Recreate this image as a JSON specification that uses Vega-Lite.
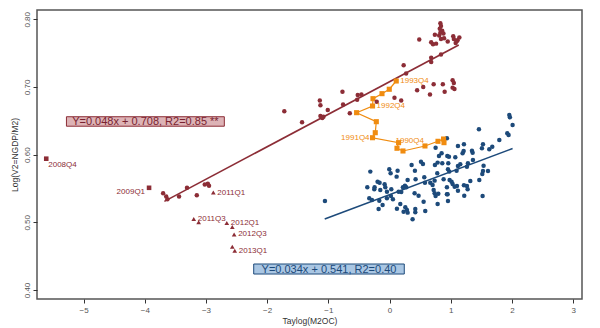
{
  "$schema": "https://vega.github.io/schema/vega-lite/v6.json",
  "width": 545,
  "height": 289,
  "autosize": {"type": "none"},
  "padding": {"left": 37, "top": 10, "right": 18, "bottom": 29},
  "background": "white",
  "config": {
    "view": {"stroke": "#555555", "strokeWidth": 1.5},
    "font": "Liberation Sans",
    "axis": {"grid": false, "domain": false, "tickColor": "#333333", "tickSize": 4, "labelColor": "#555555", "labelFontSize": 8, "titleFontSize": 8.5, "titleFontWeight": "normal", "titleColor": "#333333", "labelFont": "Liberation Sans", "titleFont": "Liberation Sans"}
  },
  "datasets": {
    "pts": [
      {"x": -5.61, "y": 0.594, "g": "crisis", "lab": "2008Q4"},
      {"x": -3.93, "y": 0.551, "g": "crisis", "lab": "2009Q1"},
      {"x": -2.88, "y": 0.544, "g": "recent", "lab": "2011Q1"},
      {"x": -3.20, "y": 0.505, "g": "recent", "lab": "2011Q3"},
      {"x": -3.12, "y": 0.500, "g": "recent", "lab": ""},
      {"x": -2.66, "y": 0.499, "g": "recent", "lab": "2012Q1"},
      {"x": -2.57, "y": 0.493, "g": "recent", "lab": ""},
      {"x": -2.54, "y": 0.482, "g": "recent", "lab": "2012Q3"},
      {"x": -2.57, "y": 0.464, "g": "recent", "lab": ""},
      {"x": -2.53, "y": 0.458, "g": "recent", "lab": "2013Q1"},
      {"x": -3.70, "y": 0.543, "g": "hist", "lab": ""},
      {"x": -3.65, "y": 0.538, "g": "hist", "lab": ""},
      {"x": -3.63, "y": 0.534, "g": "hist", "lab": ""},
      {"x": -3.44, "y": 0.538, "g": "hist", "lab": ""},
      {"x": -3.31, "y": 0.551, "g": "hist", "lab": ""},
      {"x": -3.15, "y": 0.540, "g": "hist", "lab": ""},
      {"x": -3.02, "y": 0.556, "g": "hist", "lab": ""},
      {"x": -2.97, "y": 0.557, "g": "hist", "lab": ""},
      {"x": -2.95, "y": 0.554, "g": "hist", "lab": ""},
      {"x": -1.72, "y": 0.664, "g": "hist", "lab": ""},
      {"x": -1.43, "y": 0.648, "g": "hist", "lab": ""},
      {"x": -1.13, "y": 0.657, "g": "hist", "lab": ""},
      {"x": -1.08, "y": 0.656, "g": "hist", "lab": ""},
      {"x": -1.10, "y": 0.654, "g": "hist", "lab": ""},
      {"x": -1.01, "y": 0.666, "g": "hist", "lab": ""},
      {"x": -1.14, "y": 0.680, "g": "hist", "lab": ""},
      {"x": -1.13, "y": 0.673, "g": "hist", "lab": ""},
      {"x": -0.77, "y": 0.693, "g": "hist", "lab": ""},
      {"x": -0.76, "y": 0.674, "g": "hist", "lab": ""},
      {"x": -0.65, "y": 0.661, "g": "hist", "lab": ""},
      {"x": -0.52, "y": 0.688, "g": "hist", "lab": ""},
      {"x": -0.46, "y": 0.689, "g": "hist", "lab": ""},
      {"x": -0.53, "y": 0.681, "g": "hist", "lab": ""},
      {"x": -0.21, "y": 0.678, "g": "hist", "lab": ""},
      {"x": 0.08, "y": 0.684, "g": "hist", "lab": ""},
      {"x": 0.19, "y": 0.680, "g": "hist", "lab": ""},
      {"x": 0.23, "y": 0.732, "g": "hist", "lab": ""},
      {"x": 0.27, "y": 0.720, "g": "hist", "lab": ""},
      {"x": 0.45, "y": 0.695, "g": "hist", "lab": ""},
      {"x": 0.55, "y": 0.700, "g": "hist", "lab": ""},
      {"x": 0.66, "y": 0.689, "g": "hist", "lab": ""},
      {"x": 0.72, "y": 0.704, "g": "hist", "lab": ""},
      {"x": 0.87, "y": 0.704, "g": "hist", "lab": ""},
      {"x": 0.90, "y": 0.693, "g": "hist", "lab": ""},
      {"x": 1.03, "y": 0.710, "g": "hist", "lab": ""},
      {"x": 1.05, "y": 0.706, "g": "hist", "lab": ""},
      {"x": 1.03, "y": 0.699, "g": "hist", "lab": ""},
      {"x": 1.06, "y": 0.697, "g": "hist", "lab": ""},
      {"x": 0.485, "y": 0.770, "g": "hist", "lab": ""},
      {"x": 0.68, "y": 0.737, "g": "hist", "lab": ""},
      {"x": 0.68, "y": 0.743, "g": "hist", "lab": ""},
      {"x": 0.84, "y": 0.748, "g": "hist", "lab": ""},
      {"x": 0.83, "y": 0.794, "g": "hist", "lab": ""},
      {"x": 0.84, "y": 0.790, "g": "hist", "lab": ""},
      {"x": 0.82, "y": 0.786, "g": "hist", "lab": ""},
      {"x": 0.86, "y": 0.783, "g": "hist", "lab": ""},
      {"x": 0.83, "y": 0.780, "g": "hist", "lab": ""},
      {"x": 0.88, "y": 0.779, "g": "hist", "lab": ""},
      {"x": 0.74, "y": 0.777, "g": "hist", "lab": ""},
      {"x": 0.81, "y": 0.776, "g": "hist", "lab": ""},
      {"x": 0.84, "y": 0.771, "g": "hist", "lab": ""},
      {"x": 0.89, "y": 0.772, "g": "hist", "lab": ""},
      {"x": 0.68, "y": 0.766, "g": "hist", "lab": ""},
      {"x": 0.71, "y": 0.763, "g": "hist", "lab": ""},
      {"x": 0.76, "y": 0.764, "g": "hist", "lab": ""},
      {"x": 0.95, "y": 0.767, "g": "hist", "lab": ""},
      {"x": 1.04, "y": 0.775, "g": "hist", "lab": ""},
      {"x": 1.05, "y": 0.771, "g": "hist", "lab": ""},
      {"x": 1.08, "y": 0.765, "g": "hist", "lab": ""},
      {"x": 1.11, "y": 0.769, "g": "hist", "lab": ""},
      {"x": 1.14, "y": 0.773, "g": "hist", "lab": ""},
      {"x": 1.10, "y": 0.768, "g": "hist", "lab": ""}
    ],
    "orange": [
      {"seq": 1, "x": 0.889, "y": 0.6177, "lab": ""},
      {"seq": 2, "x": 0.882, "y": 0.6231, "lab": ""},
      {"seq": 3, "x": 0.791, "y": 0.6197, "lab": ""},
      {"seq": 4, "x": 0.578, "y": 0.6128, "lab": "1990Q4"},
      {"seq": 5, "x": 0.219, "y": 0.6054, "lab": ""},
      {"seq": 6, "x": 0.121, "y": 0.6094, "lab": ""},
      {"seq": 7, "x": 0.147, "y": 0.6177, "lab": ""},
      {"seq": 8, "x": -0.278, "y": 0.6250, "lab": "1991Q4"},
      {"seq": 9, "x": -0.234, "y": 0.6324, "lab": ""},
      {"seq": 10, "x": -0.217, "y": 0.6487, "lab": ""},
      {"seq": 11, "x": -0.539, "y": 0.6620, "lab": ""},
      {"seq": 12, "x": -0.278, "y": 0.6719, "lab": "1992Q4"},
      {"seq": 13, "x": -0.271, "y": 0.6827, "lab": ""},
      {"seq": 14, "x": -0.124, "y": 0.6901, "lab": ""},
      {"seq": 15, "x": -0.005, "y": 0.6966, "lab": ""},
      {"seq": 16, "x": 0.109, "y": 0.7088, "lab": "1993Q4"}
    ],
    "blue": [
      {"x": 1.956, "y": 0.6586}, {"x": 1.966, "y": 0.6551}, {"x": 2.010, "y": 0.6438}, {"x": 1.923, "y": 0.6315},
      {"x": 1.945, "y": 0.6290}, {"x": 1.460, "y": 0.6374}, {"x": 1.793, "y": 0.6216}, {"x": 1.678, "y": 0.6118},
      {"x": 1.629, "y": 0.6079}, {"x": 1.526, "y": 0.6152}, {"x": 1.509, "y": 0.6093}, {"x": 1.117, "y": 0.6128},
      {"x": 1.215, "y": 0.6152}, {"x": 1.346, "y": 0.6059}, {"x": 1.357, "y": 0.6029}, {"x": 1.193, "y": 0.6019},
      {"x": 1.210, "y": 0.6054}, {"x": 1.074, "y": 0.5960}, {"x": 0.943, "y": 0.5980}, {"x": 0.970, "y": 0.5970},
      {"x": 0.850, "y": 0.6019}, {"x": 0.807, "y": 0.5980}, {"x": 0.752, "y": 0.6103}, {"x": 0.861, "y": 0.5872},
      {"x": 0.785, "y": 0.5882}, {"x": 0.741, "y": 0.5847}, {"x": 1.362, "y": 0.5921}, {"x": 1.280, "y": 0.5872},
      {"x": 1.264, "y": 0.5822}, {"x": 1.155, "y": 0.5857}, {"x": 0.959, "y": 0.5872}, {"x": 0.954, "y": 0.5783},
      {"x": 1.095, "y": 0.5763}, {"x": 1.117, "y": 0.5832}, {"x": 0.779, "y": 0.5724}, {"x": 0.976, "y": 0.5749},
      {"x": 1.536, "y": 0.5837}, {"x": 1.526, "y": 0.5758}, {"x": 1.608, "y": 0.5758}, {"x": 1.515, "y": 0.5714},
      {"x": 1.466, "y": 0.5625}, {"x": 1.319, "y": 0.5611}, {"x": 1.264, "y": 0.5537}, {"x": 1.215, "y": 0.5547},
      {"x": 1.275, "y": 0.5487}, {"x": 1.220, "y": 0.5394}, {"x": 1.101, "y": 0.5537}, {"x": 1.117, "y": 0.5468},
      {"x": 0.981, "y": 0.5625}, {"x": 1.013, "y": 0.5601}, {"x": 1.030, "y": 0.5566}, {"x": 1.063, "y": 0.5527},
      {"x": 0.883, "y": 0.5635}, {"x": 0.937, "y": 0.5517}, {"x": 0.937, "y": 0.5414}, {"x": 0.796, "y": 0.5423},
      {"x": 0.736, "y": 0.5428}, {"x": 0.720, "y": 0.5478}, {"x": 0.665, "y": 0.5586}, {"x": 0.736, "y": 0.5616},
      {"x": 0.703, "y": 0.5552}, {"x": 0.578, "y": 0.5586}, {"x": 0.567, "y": 0.5665}, {"x": 0.513, "y": 0.5896},
      {"x": 0.545, "y": 0.5862}, {"x": 0.360, "y": 0.5847}, {"x": 0.414, "y": 0.5763}, {"x": 0.295, "y": 0.5625},
      {"x": 0.425, "y": 0.5635}, {"x": 0.251, "y": 0.5542}, {"x": 0.218, "y": 0.5517}, {"x": 0.273, "y": 0.5517},
      {"x": 0.191, "y": 0.5448}, {"x": 0.148, "y": 0.5453}, {"x": 0.028, "y": 0.5487}, {"x": -0.163, "y": 0.5586},
      {"x": -0.196, "y": 0.5601}, {"x": -0.081, "y": 0.5561}, {"x": -0.070, "y": 0.5517}, {"x": -0.245, "y": 0.5517},
      {"x": -0.250, "y": 0.5487}, {"x": -0.152, "y": 0.5478}, {"x": -0.364, "y": 0.5517}, {"x": -0.315, "y": 0.5749},
      {"x": -0.005, "y": 0.5783}, {"x": 0.017, "y": 0.5724}, {"x": 0.131, "y": 0.5763}, {"x": 0.115, "y": 0.5675},
      {"x": -0.043, "y": 0.5453}, {"x": -0.043, "y": 0.5354}, {"x": 0.055, "y": 0.5340}, {"x": 0.022, "y": 0.5389},
      {"x": -0.332, "y": 0.5354}, {"x": -0.288, "y": 0.5330}, {"x": -0.168, "y": 0.5320}, {"x": -0.114, "y": 0.5256},
      {"x": -0.179, "y": 0.5197}, {"x": 0.120, "y": 0.5202}, {"x": 0.175, "y": 0.5271}, {"x": 0.257, "y": 0.5222},
      {"x": 0.284, "y": 0.5182}, {"x": 0.295, "y": 0.5143}, {"x": 0.229, "y": 0.5157}, {"x": 0.376, "y": 0.5044},
      {"x": 0.420, "y": 0.5197}, {"x": 0.420, "y": 0.5148}, {"x": 0.474, "y": 0.5394}, {"x": 0.409, "y": 0.5428},
      {"x": 0.556, "y": 0.5305}, {"x": 0.583, "y": 0.5167}, {"x": 0.785, "y": 0.5271}, {"x": 0.752, "y": 0.5389},
      {"x": 0.948, "y": 0.5414}, {"x": 0.954, "y": 0.5315}, {"x": 1.520, "y": 0.5389}, {"x": -1.056, "y": 0.5315},
      {"x": 0.937, "y": 0.6241}
    ],
    "fits": [
      {"fit": "red", "x": -3.68, "y": 0.531},
      {"fit": "red", "x": 1.13, "y": 0.762},
      {"fit": "blue", "x": -1.06, "y": 0.505},
      {"fit": "blue", "x": 2.01, "y": 0.609}
    ],
    "notes": [
      {"note": "red", "x": -5.28, "x2": -2.70, "y": 0.642, "y2": 0.656, "xc": -3.99, "yc": 0.649, "text": "Y=0.048x + 0.708, R2=0.85 **"},
      {"note": "blue", "x": -2.22, "x2": 0.24, "y": 0.4236, "y2": 0.4384, "xc": -0.99, "yc": 0.431, "text": "Y=0.034x + 0.541, R2=0.40"}
    ]
  },
  "layer": [
    {
      "data": {"name": "fits"},
      "mark": {"type": "line", "strokeWidth": 1.6},
      "encoding": {
        "x": {"field": "x", "type": "quantitative", "scale": {"domain": [-5.761, 3.144], "nice": false, "zero": false}, "axis": {"values": [-5, -4, -3, -2, -1, 0, 1, 2, 3], "format": "d", "title": "Taylog(M2OC)", "labelPadding": 3, "titlePadding": 2}},
        "y": {"field": "y", "type": "quantitative", "scale": {"domain": [0.3867, 0.8137], "nice": false, "zero": false}, "axis": {"values": [0.4, 0.45, 0.5, 0.55, 0.6, 0.65, 0.7, 0.75, 0.8], "format": ".2f", "labelAngle": -90, "labelAlign": "center", "labelBaseline": "bottom", "labelPadding": 2, "title": "Log(V2=NGDP/M2)", "titlePadding": 4}},
        "detail": {"field": "fit"},
        "stroke": {"field": "fit", "type": "nominal", "scale": {"domain": ["red", "blue"], "range": ["#8c2d36", "#1d4a7a"]}, "legend": null}
      }
    },
    {
      "data": {"name": "blue"},
      "mark": {"type": "circle", "size": 20, "fill": "#1d4a7a", "opacity": 1},
      "encoding": {"x": {"field": "x", "type": "quantitative"}, "y": {"field": "y", "type": "quantitative"}}
    },
    {
      "data": {"name": "orange"},
      "mark": {"type": "line", "stroke": "#f08c10", "strokeWidth": 1.2},
      "encoding": {"x": {"field": "x", "type": "quantitative"}, "y": {"field": "y", "type": "quantitative"}, "order": {"field": "seq", "type": "quantitative"}}
    },
    {
      "data": {"name": "orange"},
      "mark": {"type": "square", "size": 26, "fill": "#f08c10", "opacity": 1},
      "encoding": {"x": {"field": "x", "type": "quantitative"}, "y": {"field": "y", "type": "quantitative"}}
    },
    {
      "data": {"name": "pts"},
      "mark": {"type": "point", "filled": true, "opacity": 1, "fill": "#8c2d36", "strokeWidth": 0},
      "encoding": {
        "x": {"field": "x", "type": "quantitative"},
        "y": {"field": "y", "type": "quantitative"},
        "shape": {"field": "g", "type": "nominal", "scale": {"domain": ["hist", "crisis", "recent"], "range": ["circle", "square", "triangle-up"]}, "legend": null},
        "size": {"field": "g", "type": "nominal", "scale": {"domain": ["hist", "crisis", "recent"], "range": [20, 22, 18]}, "legend": null}
      }
    },
    {
      "data": {"name": "pts"},
      "transform": [{"filter": {"field": "lab", "oneOf": ["2011Q1", "2011Q3", "2012Q1", "2012Q3", "2013Q1"]}}],
      "mark": {"type": "text", "align": "left", "baseline": "middle", "dx": 4, "fontSize": 8, "fill": "#8c2d36"},
      "encoding": {"x": {"field": "x", "type": "quantitative"}, "y": {"field": "y", "type": "quantitative"}, "text": {"field": "lab"}}
    },
    {
      "data": {"name": "pts"},
      "transform": [{"filter": {"field": "lab", "equal": "2008Q4"}}],
      "mark": {"type": "text", "align": "left", "baseline": "middle", "dx": 2, "dy": 6, "fontSize": 8, "fill": "#8c2d36"},
      "encoding": {"x": {"field": "x", "type": "quantitative"}, "y": {"field": "y", "type": "quantitative"}, "text": {"field": "lab"}}
    },
    {
      "data": {"name": "pts"},
      "transform": [{"filter": {"field": "lab", "equal": "2009Q1"}}],
      "mark": {"type": "text", "align": "right", "baseline": "middle", "dx": -4, "dy": 4, "fontSize": 8, "fill": "#8c2d36"},
      "encoding": {"x": {"field": "x", "type": "quantitative"}, "y": {"field": "y", "type": "quantitative"}, "text": {"field": "lab"}}
    },
    {
      "data": {"name": "orange"},
      "transform": [{"filter": {"field": "lab", "oneOf": ["1992Q4", "1993Q4"]}}],
      "mark": {"type": "text", "align": "left", "baseline": "middle", "dx": 4, "fontSize": 8, "fill": "#f08c10"},
      "encoding": {"x": {"field": "x", "type": "quantitative"}, "y": {"field": "y", "type": "quantitative"}, "text": {"field": "lab"}}
    },
    {
      "data": {"name": "orange"},
      "transform": [{"filter": {"field": "lab", "equal": "1991Q4"}}],
      "mark": {"type": "text", "align": "right", "baseline": "middle", "dx": -3, "fontSize": 8, "fill": "#f08c10"},
      "encoding": {"x": {"field": "x", "type": "quantitative"}, "y": {"field": "y", "type": "quantitative"}, "text": {"field": "lab"}}
    },
    {
      "data": {"name": "orange"},
      "transform": [{"filter": {"field": "lab", "equal": "1990Q4"}}],
      "mark": {"type": "text", "align": "right", "baseline": "middle", "dx": -1, "dy": -5, "fontSize": 8, "fill": "#f08c10"},
      "encoding": {"x": {"field": "x", "type": "quantitative"}, "y": {"field": "y", "type": "quantitative"}, "text": {"field": "lab"}}
    },
    {
      "data": {"name": "notes"},
      "mark": {"type": "rect", "strokeWidth": 1},
      "encoding": {
        "x": {"field": "x", "type": "quantitative"},
        "x2": {"field": "x2"},
        "y": {"field": "y", "type": "quantitative"},
        "y2": {"field": "y2"},
        "fill": {"field": "note", "type": "nominal", "scale": {"domain": ["red", "blue"], "range": ["#ddb3b6", "#a9c6e3"]}, "legend": null},
        "stroke": {"field": "note", "type": "nominal", "scale": {"domain": ["red", "blue"], "range": ["#8c2d36", "#1d4a7a"]}, "legend": null}
      }
    },
    {
      "data": {"name": "notes"},
      "transform": [{"filter": {"field": "note", "equal": "red"}}],
      "mark": {"type": "text", "fontSize": 11, "align": "center", "baseline": "middle", "dy": 0.5, "fill": "#7a2330"},
      "encoding": {"x": {"field": "xc", "type": "quantitative"}, "y": {"field": "yc", "type": "quantitative"}, "text": {"field": "text"}}
    },
    {
      "data": {"name": "notes"},
      "transform": [{"filter": {"field": "note", "equal": "blue"}}],
      "mark": {"type": "text", "fontSize": 11, "align": "center", "baseline": "middle", "dy": 0.5, "fill": "#1d4a7a"},
      "encoding": {"x": {"field": "xc", "type": "quantitative"}, "y": {"field": "yc", "type": "quantitative"}, "text": {"field": "text"}}
    }
  ]
}
